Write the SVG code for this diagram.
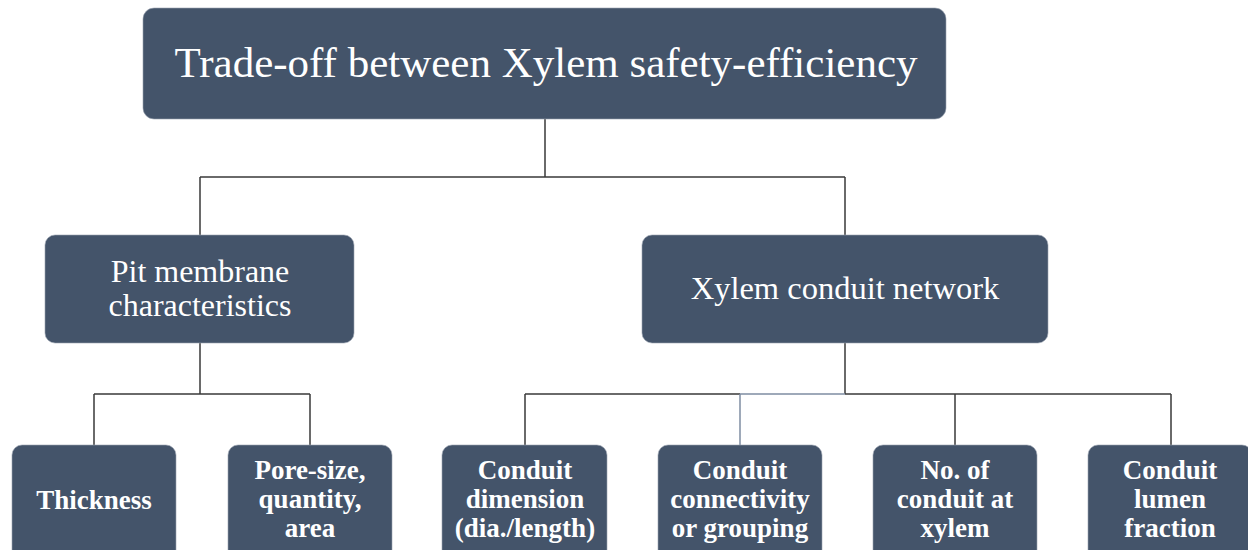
<svg xmlns="http://www.w3.org/2000/svg" width="1248" height="550" viewBox="0 0 1248 550">
<style>
.box{fill:#44546a;stroke:#9aa3b0;stroke-width:0.6}
.t{font-family:"Liberation Serif","Times New Roman",serif;fill:#ffffff;text-anchor:middle}
.b{font-weight:bold;font-size:27px}
.c{fill:none;stroke:#3a3a3a;stroke-width:1.5}
.c2{fill:none;stroke:#7f8da3;stroke-width:1.5}
</style>
<rect width="1248" height="550" fill="#ffffff"/>
<g id="connectors">
<path class="c" d="M545 119V177M200 177H845M200 177V235M845 177V235"/>
<path class="c" d="M200 343V394M94 394H310M94 394V445M310 394V445"/>
<path class="c" d="M845 343V394M525 394H740M845 394H1171M525 394V445M955 394V445M1171 394V445"/>
<path class="c2" d="M740 394H845M740 394V445"/>
</g>
<g id="root">
<rect class="box" x="143" y="8" width="803" height="111" rx="11"/>
<text class="t" x="546" y="77" font-size="43">Trade-off between Xylem safety-efficiency</text>
</g>
<g id="pit">
<rect class="box" x="45" y="235" width="309" height="108" rx="10"/>
<text class="t" x="200" y="282" font-size="32">Pit membrane</text>
<text class="t" x="200" y="316" font-size="32">characteristics</text>
</g>
<g id="network">
<rect class="box" x="642" y="235" width="406" height="108" rx="10"/>
<text class="t" x="845" y="299" font-size="32.5">Xylem conduit network</text>
</g>
<g id="thickness">
<rect class="box" x="12" y="445" width="164" height="115" rx="10"/>
<text class="t b" x="94" y="509">Thickness</text>
</g>
<g id="pore">
<rect class="box" x="228" y="445" width="164" height="115" rx="10"/>
<text class="t b" x="310" y="479">Pore-size,</text>
<text class="t b" x="310" y="508">quantity,</text>
<text class="t b" x="310" y="537">area</text>
</g>
<g id="dimension">
<rect class="box" x="442" y="445" width="165" height="115" rx="10"/>
<text class="t b" x="525" y="479">Conduit</text>
<text class="t b" x="525" y="508">dimension</text>
<text class="t b" x="525" y="537">(dia./length)</text>
</g>
<g id="connectivity">
<rect class="box" x="658" y="445" width="164" height="115" rx="10"/>
<text class="t b" x="740" y="479">Conduit</text>
<text class="t b" x="740" y="508">connectivity</text>
<text class="t b" x="740" y="537">or grouping</text>
</g>
<g id="number">
<rect class="box" x="873" y="445" width="164" height="115" rx="10"/>
<text class="t b" x="955" y="479">No. of</text>
<text class="t b" x="955" y="508">conduit at</text>
<text class="t b" x="955" y="537">xylem</text>
</g>
<g id="lumen">
<rect class="box" x="1088" y="445" width="164" height="115" rx="10"/>
<text class="t b" x="1170" y="479">Conduit</text>
<text class="t b" x="1170" y="508">lumen</text>
<text class="t b" x="1170" y="537">fraction</text>
</g>
</svg>
